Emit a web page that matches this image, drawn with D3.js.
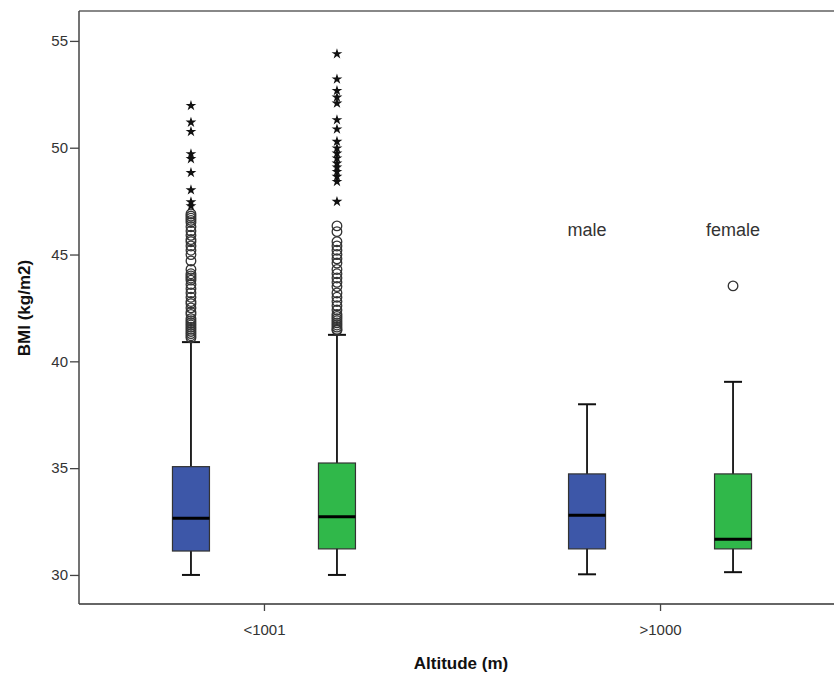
<!DOCTYPE html>
<html lang="en">
<head>
<meta charset="utf-8">
<title>BMI by altitude and sex</title>
<script src="https://d3js.org/d3.v7.min.js"></script>
<style>
  body { margin: 0; background: #fff; }
  svg text { font-family: "Liberation Sans", Arial, sans-serif; }
</style>
</head>
<body>
<div id="chart"></div>
<script>
// categories
var groups = ["<1001", ">1000"];
var sexes = ["male", "female"];

// one entry per box, in order: <1001 male, <1001 female, >1000 male, >1000 female
var boxGroup = ["<1001", "<1001", ">1000", ">1000"];
var boxSex = ["male", "female", "male", "female"];
var lowerWhisker = [30.0, 30.0, 30.03, 30.13];
var q1 = [31.12, 31.22, 31.22, 31.22];
var median = [32.65, 32.73, 32.79, 31.67];
var q3 = [35.07, 35.24, 34.73, 34.73];
var upperWhisker = [40.9, 41.24, 37.99, 39.04];

// outliers (circles) per box
var outliers = [
  [46.9, 46.8, 46.7, 46.6, 46.5, 46.3, 46.1, 45.9, 45.7, 45.6, 45.4, 45.2, 45.0, 44.7,
   44.3, 44.1, 44.0, 43.9, 43.8, 43.6, 43.4, 43.2, 43.0, 42.8, 42.7, 42.5, 42.3, 42.2,
   42.0, 41.9, 41.8, 41.7, 41.6, 41.5, 41.4, 41.3, 41.2, 41.1],
  [46.34, 46.07, 45.6, 45.4, 45.2, 45.0, 44.8, 44.6, 44.3, 44.1, 43.9, 43.7, 43.5, 43.2,
   43.0, 42.8, 42.6, 42.4, 42.2, 42.1, 42.0, 41.9, 41.8, 41.7, 41.6, 41.5, 41.45],
  [],
  [43.53]
];
// extreme values (stars) per box
var extremes = [
  [51.97, 51.19, 50.75, 49.71, 49.48, 48.83, 48.02, 47.46, 47.27],
  [54.39, 53.21, 52.67, 52.36, 52.08, 51.30, 50.87, 50.29, 49.98, 49.74, 49.51,
   49.27, 49.09, 48.88, 48.65, 48.41, 47.48],
  [],
  []
];

var yTicks = [30, 35, 40, 45, 50, 55];
var sexColor = { male: "#3d57a8", female: "#30b84a" };

var width = 834, height = 675;
var plotLeft = 79, plotTop = 11, plotBottom = 604, plotRight = 845;

var svg = d3.select("#chart").append("svg")
  .attr("width", width)
  .attr("height", height);

var y = d3.scaleLinear().domain([28.64, 56.4]).range([plotBottom, plotTop]);
var x0 = d3.scalePoint().domain(groups).range([plotLeft, plotRight]).padding(0.467);
var x1 = d3.scalePoint().domain(sexes).range([-73, 73]);
var boxW = 37;

function cx(i) { return x0(boxGroup[i]) + x1(boxSex[i]); }

// frame
svg.append("line").attr("x1", plotLeft).attr("x2", plotRight).attr("y1", plotTop).attr("y2", plotTop)
  .attr("stroke", "#888").attr("stroke-width", 2);
svg.append("line").attr("x1", plotLeft).attr("x2", plotRight).attr("y1", plotBottom).attr("y2", plotBottom)
  .attr("stroke", "#666").attr("stroke-width", 2);

// axes
var yAxis = svg.append("g")
  .attr("transform", "translate(" + plotLeft + ",0)")
  .call(d3.axisLeft(y).tickValues(yTicks).tickSizeInner(9).tickSizeOuter(0).tickPadding(2));
yAxis.select(".domain").attr("d", "M0," + plotTop + "V" + plotBottom).attr("stroke", "#444").attr("stroke-width", 1.5);

var xAxis = svg.append("g")
  .attr("transform", "translate(0," + plotBottom + ")")
  .call(d3.axisBottom(x0).tickSizeInner(7).tickSizeOuter(0).tickPadding(13));
xAxis.select(".domain").remove();

svg.selectAll(".tick line").attr("stroke", "#444").attr("stroke-width", 1.3);
svg.selectAll(".tick text").attr("fill", "#333").style("font-size", "15px");

// axis titles
svg.append("text")
  .attr("transform", "translate(30,308) rotate(-90)")
  .attr("text-anchor", "middle")
  .style("font-size", "17px").style("font-weight", "bold").attr("fill", "#111")
  .text("BMI (kg/m2)");
svg.append("text")
  .attr("x", 461).attr("y", 669)
  .attr("text-anchor", "middle")
  .style("font-size", "17px").style("font-weight", "bold").attr("fill", "#111")
  .text("Altitude (m)");

// boxes
var idx = d3.range(boxGroup.length);
var box = svg.selectAll(".box").data(idx).enter().append("g").attr("class", "box");

box.append("line")
  .attr("x1", cx).attr("x2", cx)
  .attr("y1", function(i) { return y(upperWhisker[i]); })
  .attr("y2", function(i) { return y(lowerWhisker[i]); })
  .attr("stroke", "#111").attr("stroke-width", 1.8);

box.selectAll(".cap")
  .data(function(i) { return [[i, lowerWhisker[i]], [i, upperWhisker[i]]]; })
  .enter().append("line")
  .attr("x1", function(d) { return cx(d[0]) - 9; })
  .attr("x2", function(d) { return cx(d[0]) + 9; })
  .attr("y1", function(d) { return y(d[1]); })
  .attr("y2", function(d) { return y(d[1]); })
  .attr("stroke", "#111").attr("stroke-width", 2);

box.append("rect")
  .attr("x", function(i) { return cx(i) - boxW / 2; })
  .attr("width", boxW)
  .attr("y", function(i) { return y(q3[i]); })
  .attr("height", function(i) { return y(q1[i]) - y(q3[i]); })
  .attr("fill", function(i) { return sexColor[boxSex[i]]; })
  .attr("stroke", "#333").attr("stroke-width", 1.2);

box.append("line")
  .attr("x1", function(i) { return cx(i) - boxW / 2; })
  .attr("x2", function(i) { return cx(i) + boxW / 2; })
  .attr("y1", function(i) { return y(median[i]); })
  .attr("y2", function(i) { return y(median[i]); })
  .attr("stroke", "#000").attr("stroke-width", 3);

// outlier circles
box.selectAll(".out")
  .data(function(i) { return outliers[i].map(function(v) { return [i, v]; }); })
  .enter().append("circle")
  .attr("cx", function(d) { return cx(d[0]); })
  .attr("cy", function(d) { return y(d[1]); })
  .attr("r", 4.8)
  .attr("fill", "none")
  .attr("stroke", "#333").attr("stroke-width", 1.3);

// extreme stars
var star = d3.symbol().type(d3.symbolStar).size(36);
box.selectAll(".ext")
  .data(function(i) { return extremes[i].map(function(v) { return [i, v]; }); })
  .enter().append("path")
  .attr("d", star)
  .attr("transform", function(d) { return "translate(" + cx(d[0]) + "," + y(d[1]) + ")"; })
  .attr("fill", "#111");

// sex labels above the >1000 boxes
svg.selectAll(".sexlab").data(sexes).enter().append("text")
  .attr("x", function(s) { return x0(">1000") + x1(s); })
  .attr("y", y(45.85))
  .attr("text-anchor", "middle")
  .style("font-size", "18px").attr("fill", "#333")
  .text(function(s) { return s; });
</script>
</body>
</html>
